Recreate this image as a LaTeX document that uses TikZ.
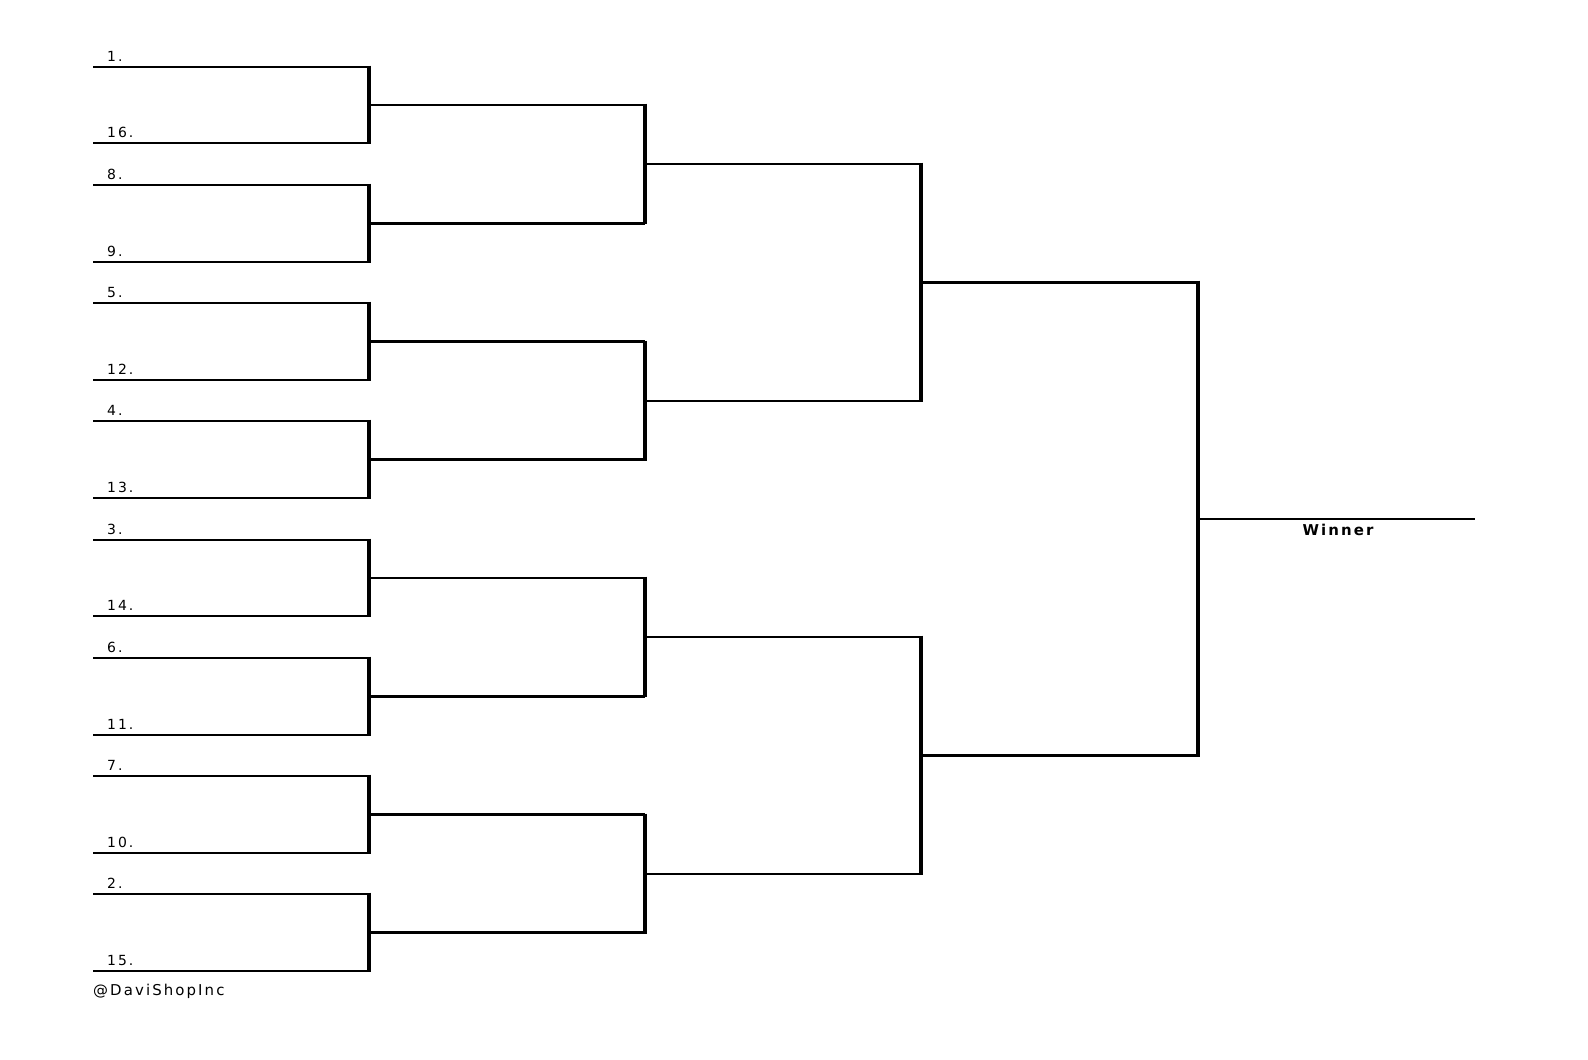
\documentclass[tikz,border=0pt]{standalone}
\usepackage{fontspec}
\setmainfont{DejaVu Sans}
\newfontfamily\widefont[LetterSpace=14]{DejaVu Sans}
\begin{document}
\begin{tikzpicture}[x=1bp,y=-1bp,
  hline/.style={line width=2.6bp},
  vline/.style={line width=4bp},
  seed/.style={anchor=base west,inner sep=0pt,font=\widefont\fontsize{14}{14}\selectfont}]
\useasboundingbox (0,0) rectangle (1588,1059);
\def\ys{{67,143,185,262,303,380,421,498,540,616,658,735,776,853,894,971}}
\foreach \s [count=\i from 0] in {1,16,8,9,5,12,4,13,3,14,6,11,7,10,2,15}{
  \pgfmathsetmacro\yy{\ys[\i]}
  \draw[hline] (93,\yy) -- (369,\yy);
  \node[seed] (s\s) at (107,\yy-6) {\s.};
}
\foreach \a/\b in {67/143,185/262,303/380,421/498,540/616,658/735,776/853,894/971}{
  \draw[vline] (369,\a-1.3) -- (369,\b+1.3);
  \draw[hline] (369,{(\a+\b)/2}) -- (645,{(\a+\b)/2});
}
\foreach \a/\b in {105/223,342/460,578/696,815/933}{
  \draw[vline] (645,\a-1.3) -- (645,\b+1.3);
  \draw[hline] (645,{(\a+\b)/2}) -- (921,{(\a+\b)/2});
}
\foreach \a/\b in {164/401,637/874}{
  \draw[vline] (921,\a-1.3) -- (921,\b+1.3);
  \draw[hline] (921,{(\a+\b)/2}) -- (1198,{(\a+\b)/2});
}
\draw[vline] (1198,282-1.3) -- (1198,756+1.3);
\draw[hline] (1198,519) -- (1475,519);
\node[anchor=base,inner sep=0pt,font=\widefont\fontsize{15}{15}\selectfont\bfseries] (win) at (1338,535) {Winner};
\node[anchor=base west,inner sep=0pt,font=\widefont\fontsize{15}{15}\selectfont] (credit) at (93,995) {@DaviShopInc};
\end{tikzpicture}
\end{document}
